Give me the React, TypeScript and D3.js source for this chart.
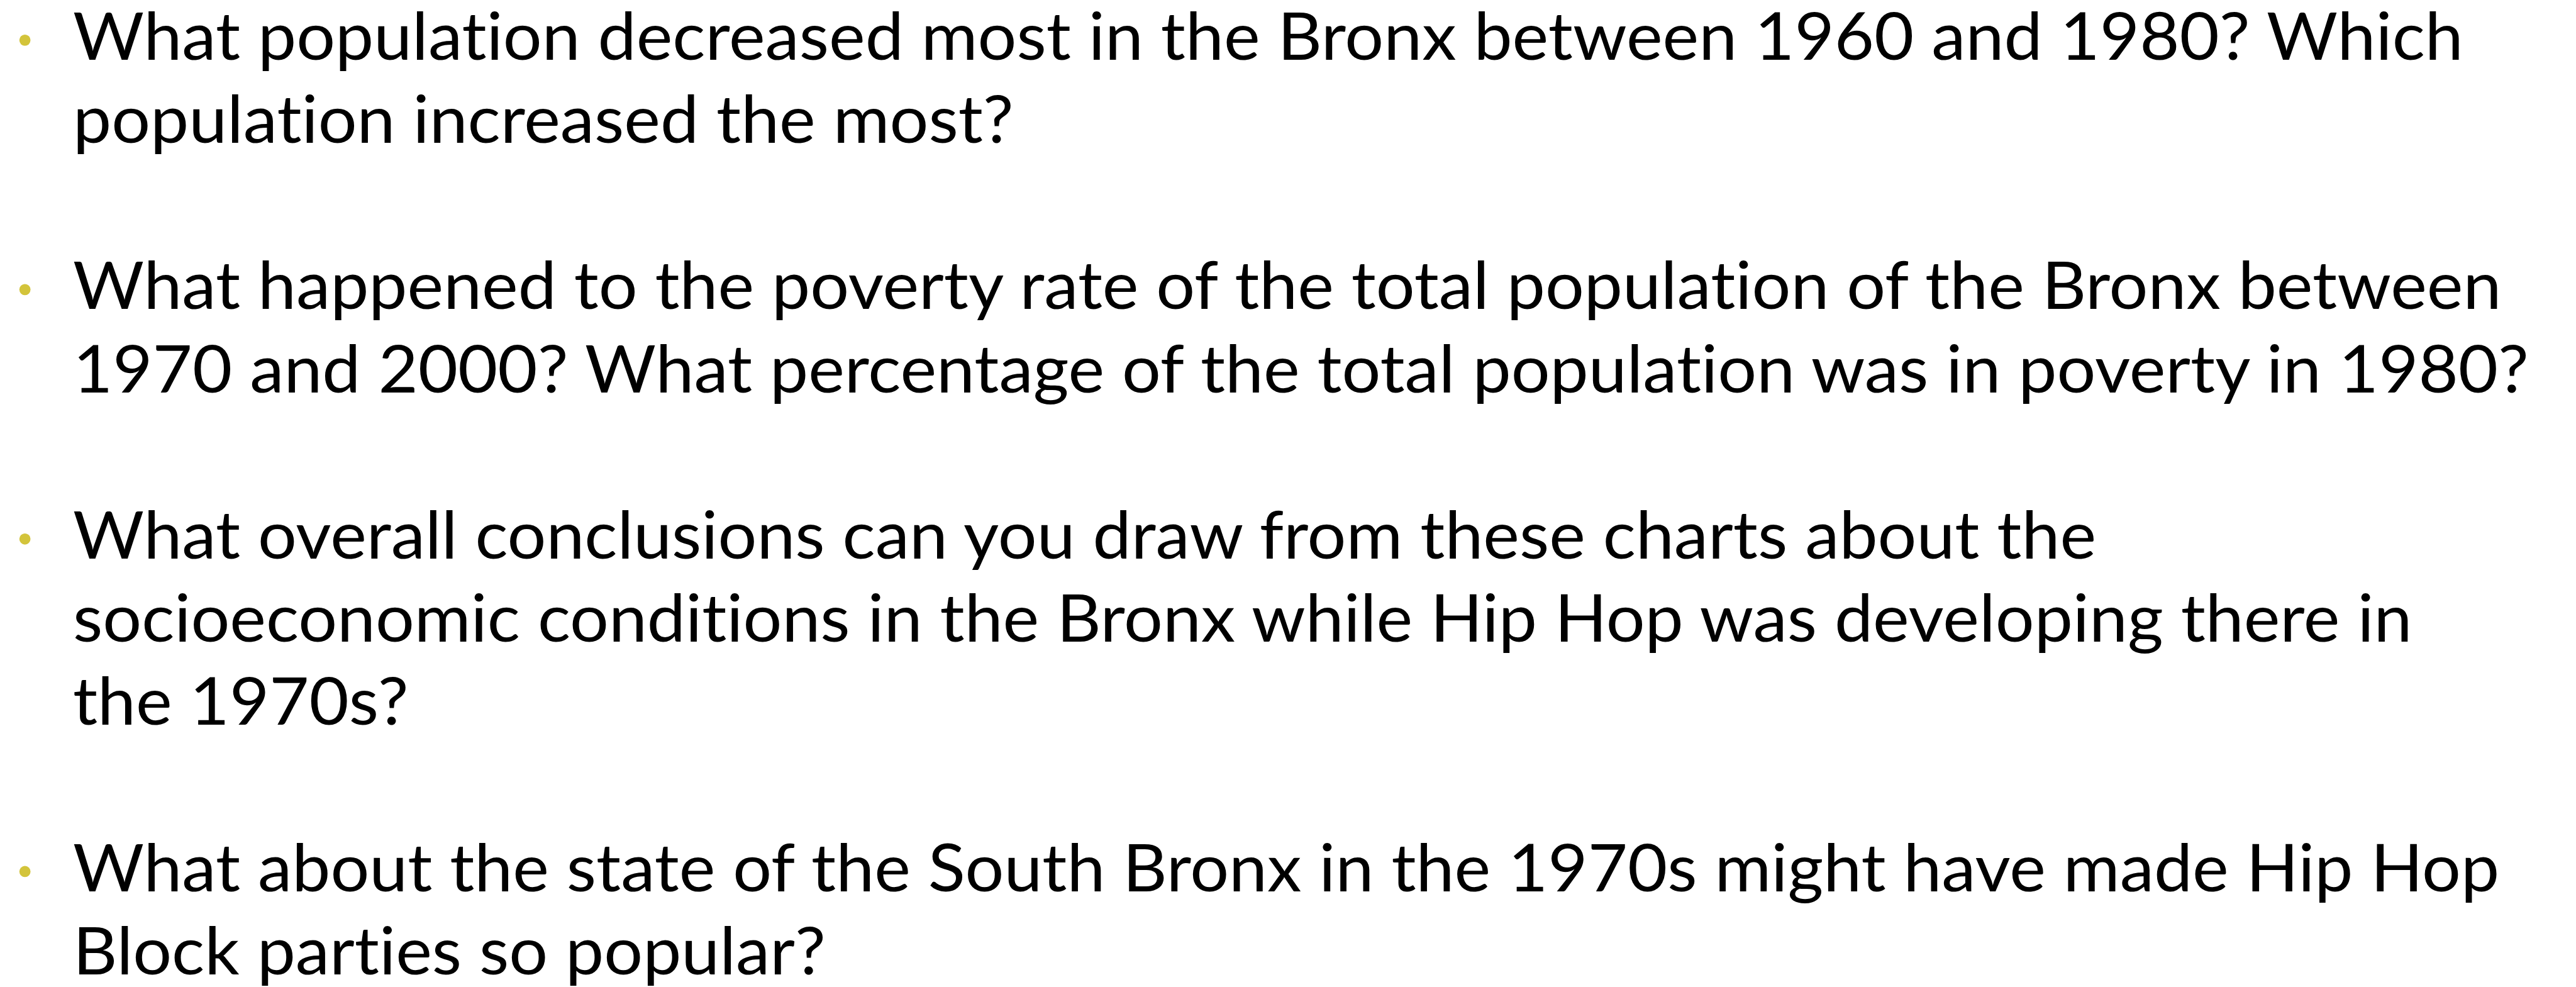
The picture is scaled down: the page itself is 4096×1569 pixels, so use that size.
import React, { useLayoutEffect, useRef } from "react";
import * as d3 from "d3";

const bulletTexts: string[][] = [
  [
    "What population decreased most in the Bronx between 1960 and 1980? Which",
    "population increased the most?",
  ],
  [
    "What happened to the poverty rate of the total population of the Bronx between",
    "1970 and 2000? What percentage of the total population was in poverty in 1980?",
  ],
  [
    "What overall conclusions can you draw from these charts about the",
    "socioeconomic conditions in the Bronx while Hip Hop was developing there in",
    "the 1970s?",
  ],
  [
    "What about the state of the South Bronx in the 1970s might have made Hip Hop",
    "Block parties so popular?",
  ],
];

const W = 4096;
const H = 1569;
const S = 0.887;

export default function App() {
  const ref = useRef<SVGSVGElement | null>(null);

  useLayoutEffect(() => {
    const svg = d3.select(ref.current);
    svg.selectAll("*").remove();

    const firstBaseline = 107 * S;
    const step = 149 * S;
    const textX = 133 * S;
    const rightEdge = 4536 * S;
    const bulletX = 44.7 * S;
    const bulletR = 10 * S;
    const bulletRise = 35 * S;
    const fontSize = 105;

    const rows: { text: string; slot: number; first: boolean }[] = [];
    let slot = 0;
    bulletTexts.forEach((lines) => {
      lines.forEach((t, i) => {
        rows.push({ text: t, slot, first: i === 0 });
        slot += 1;
      });
      slot += 1;
    });
    const y = d3
      .scaleLinear()
      .domain([0, 1])
      .range([firstBaseline, firstBaseline + step]);

    svg
      .selectAll("circle.bullet")
      .data(rows.filter((r) => r.first))
      .join("circle")
      .attr("class", "bullet")
      .attr("cx", bulletX)
      .attr("cy", (d) => y(d.slot) - bulletRise)
      .attr("r", bulletR)
      .attr("fill", "#D3C43B");

    const g = svg.append("g");
    const texts = g
      .selectAll("text")
      .data(rows)
      .join("text")
      .attr("x", 0)
      .attr("y", (d) => y(d.slot))
      .attr("font-family", "Lato, 'Open Sans', sans-serif")
      .attr("font-size", fontSize)
      .style("font-variant-ligatures", "none")
      .style("font-feature-settings", "'liga' 0, 'clig' 0")
      .attr("fill", "#000")
      .text((d) => d.text);

    let maxW = 0;
    texts.each(function () {
      const w = (this as SVGTextElement).getComputedTextLength();
      if (w > maxW) maxW = w;
    });
    const k = maxW > 0 ? (rightEdge - textX) / maxW : 1;
    g.attr("transform", `translate(${textX - 2},0) scale(${k},1)`);
  }, []);

  return (
    <svg
      ref={ref}
      width={W}
      height={H}
      viewBox={`0 0 ${W} ${H}`}
      style={{ position: "absolute", left: 0, top: 0, background: "#fff" }}
    />
  );
}
